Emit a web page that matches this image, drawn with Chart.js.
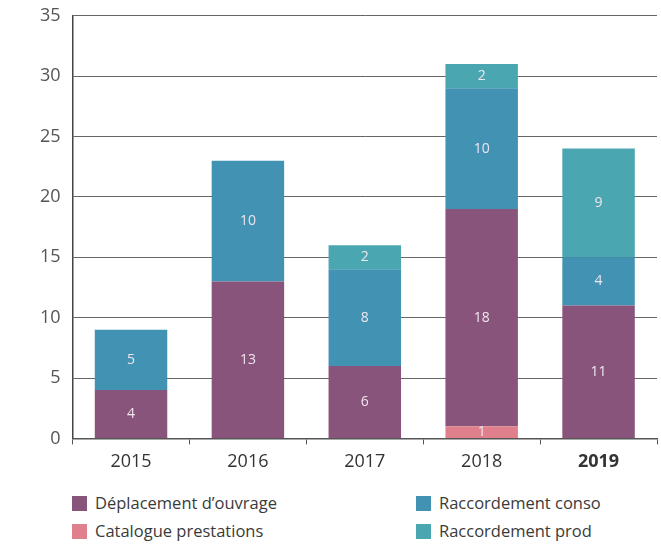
<!DOCTYPE html>
<html>
<head>
<meta charset="utf-8">
<script src="https://cdn.jsdelivr.net/npm/chart.js@4"></script>
<style>
body { margin: 0; background: #fff; font-family: "Open Sans", sans-serif; }
#wrap { position: relative; width: 661px; height: 544px; overflow: hidden; }
#raccordements { position: absolute; left: 0; top: -7px; }
#legende { position: absolute; left: 72px; top: 491px; width: 590px; display: grid;
  grid-template-columns: 344px 240px; row-gap: 5px; color: #3a3a3a; font-size: 16.5px; }
#legende span.box { display: inline-block; width: 15px; height: 15px; margin-right: 8px; vertical-align: -2px; }
</style>
</head>
<body>
<div id="wrap">
<canvas id="raccordements" width="661" height="487"></canvas>
<div id="legende"></div>
</div>
<script>
/* DONNEES */
const annees = ['2015', '2016', '2017', '2018', '2019'];
const catalogue = [0, 0, 0, 1, 0];
const deplacement = [4, 13, 6, 18, 11];
const conso = [5, 10, 8, 10, 4];
const prod = [0, 0, 2, 2, 9];
const graduations = [0, 5, 10, 15, 20, 25, 30, 35];

const series = [
  { label: 'Catalogue prestations', data: catalogue, color: '#df808c' },
  { label: 'Déplacement d\u2019ouvrage', data: deplacement, color: '#89547b' },
  { label: 'Raccordement conso', data: conso, color: '#4192b3' },
  { label: 'Raccordement prod', data: prod, color: '#4aa7b1' }
];

/* valeurs au centre des segments */
const etiquettes = {
  id: 'etiquettes',
  afterDatasetsDraw(chart) {
    const c = chart.ctx;
    c.save();
    c.font = '14px "Open Sans", sans-serif';
    c.fillStyle = '#eee6ee';
    c.textAlign = 'center';
    c.textBaseline = 'middle';
    chart.data.datasets.forEach((ds, i) => {
      chart.getDatasetMeta(i).data.forEach((bar, j) => {
        const v = ds.data[j];
        if (!v) return;
        const p = bar.getProps(['x', 'y', 'base'], true);
        c.fillText(String(v), p.x, (p.y + p.base) / 2);
      });
    });
    c.restore();
  }
};

const ctx = document.getElementById('raccordements');

new Chart(ctx, {
  type: 'bar',
  data: {
    labels: annees,
    datasets: series.map(s => ({
      label: s.label,
      data: s.data,
      backgroundColor: s.color,
      borderWidth: 0,
      barPercentage: 0.62,
      categoryPercentage: 1
    }))
  },
  options: {
    responsive: false,
    animation: false,
    layout: { padding: { top: 2, right: 4, left: 28, bottom: 0 } },
    plugins: { legend: { display: false }, tooltip: { enabled: false } },
    scales: {
      x: {
        stacked: true,
        grid: { drawOnChartArea: false, drawTicks: true, tickLength: 6, color: '#555', offset: true },
        border: { color: '#555', width: 1.5 },
        ticks: {
          color: '#333',
          padding: 7,
          font: ctx2 => ({ size: 18, family: 'Open Sans', weight: ctx2.index === 4 ? 'bold' : 'normal' })
        }
      },
      y: {
        stacked: true,
        min: 0,
        max: 35,
        afterBuildTicks: axis => { axis.ticks = graduations.map(v => ({ value: v })); },
        grid: { color: '#666', lineWidth: 1, drawTicks: false },
        border: { color: '#444', width: 1.5 },
        ticks: { color: '#555', padding: 12, font: { size: 18, family: 'Open Sans' } }
      }
    }
  },
  plugins: [etiquettes]
});

/* LEGENDE */
const ordre = [1, 2, 0, 3];
document.getElementById('legende').innerHTML = ordre.map(i =>
  '<div><span class="box" style="background:' + series[i].color + '"></span>' + series[i].label + '</div>'
).join('');
</script>
</body>
</html>
